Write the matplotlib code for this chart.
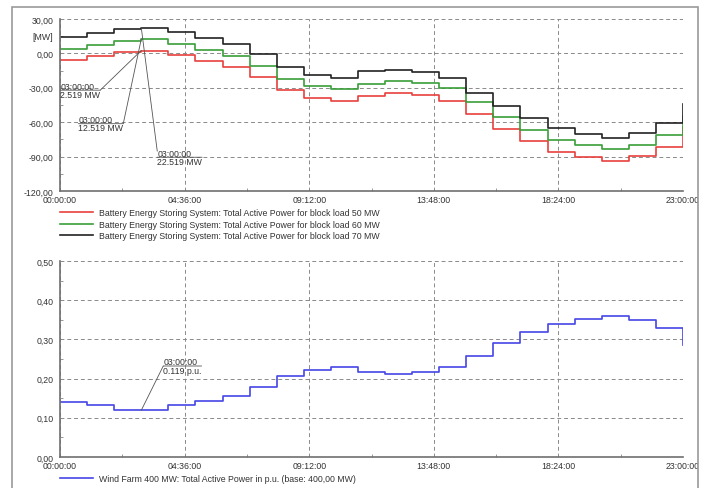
import matplotlib
matplotlib.use("Agg")
import matplotlib.pyplot as plt
from matplotlib.ticker import FuncFormatter, MultipleLocator
from matplotlib.patches import Rectangle
import numpy as np

plt.rcParams['font.family'] = ['Liberation Sans', 'DejaVu Sans']

# hourly values, 00:00 .. 23:00
hours = list(range(24))
bess_70 = [13.9, 17.4, 21.2, 22.519, 18.3, 13.0, 8.1, -0.6, -12.2, -18.6, -21.7, -15.7,
           -14.5, -16.2, -21.4, -34.8, -46.1, -56.5, -65.2, -70.7, -73.6, -69.6, -61.0, -44.5]
bess_60 = [3.9, 7.4, 11.2, 12.519, 8.3, 3.0, -1.9, -10.6, -22.2, -28.8, -31.0, -26.7,
           -24.3, -26.0, -30.4, -42.6, -55.7, -66.7, -75.7, -80.3, -83.8, -79.7, -71.5, -54.5]
bess_50 = [-6.1, -2.6, 1.2, 2.519, -1.7, -7.0, -11.9, -20.6, -32.2, -38.6, -41.7, -36.8,
           -34.8, -36.2, -41.4, -52.8, -65.8, -76.8, -86.0, -90.4, -93.9, -89.9, -81.5, -64.5]
wind_pu = [0.140, 0.132, 0.121, 0.119, 0.132, 0.142, 0.156, 0.179, 0.207, 0.223, 0.230, 0.216,
           0.211, 0.216, 0.229, 0.258, 0.290, 0.318, 0.339, 0.352, 0.360, 0.350, 0.329, 0.285]

labels_top = ["Battery Energy Storing System: Total Active Power for block load 50 MW",
              "Battery Energy Storing System: Total Active Power for block load 60 MW",
              "Battery Energy Storing System: Total Active Power for block load 70 MW"]
label_bottom = "Wind Farm 400 MW: Total Active Power in p.u. (base: 400,00 MW)"
x_ticks = [0, 4.6, 9.2, 13.8, 18.4, 23]
x_labels = ["00:00:00", "04:36:00", "09:12:00", "13:48:00", "18:24:00", "23:00:00"]

W, H = 709, 489
fs = 6.3
txt_col = "#333333"
line_col = "#555555"

fig = plt.figure(figsize=(W / 100, H / 100), dpi=100)


def px_axes(l, t, r, b):
    return fig.add_axes([l / W, 1 - b / H, (r - l) / W, (b - t) / H])


def style(ax, ymin, ymax, ystep, ndec):
    ax.set_xlim(0, 23)
    ax.set_ylim(ymin, ymax)
    ax.set_xticks(x_ticks)
    ax.set_xticklabels(x_labels)
    ax.set_yticks(np.arange(ymin, ymax + ystep / 2, ystep))
    ax.yaxis.set_major_formatter(FuncFormatter(lambda v, p: f"{v:.{ndec}f}".replace(".", ",")))
    ax.xaxis.set_minor_locator(MultipleLocator(2.3))
    ax.yaxis.set_minor_locator(MultipleLocator(ystep / 2))
    ax.tick_params(which="major", length=0, labelsize=fs, labelcolor=txt_col)
    ax.tick_params(axis="x", which="major", pad=3)
    ax.tick_params(axis="y", which="major", pad=4.5)
    ax.tick_params(which="minor", length=2.5, direction="in", color="#888888", width=0.6)
    ax.grid(True, which="major", color="#8a8a8a", linestyle=(0, (4, 3)), linewidth=0.7)
    for s in ["top", "right"]:
        ax.spines[s].set_visible(False)
    for s in ["left", "bottom"]:
        ax.spines[s].set_color("#707070")
        ax.spines[s].set_linewidth(1.2)


def note(ax, x, y, text, offset, relpos):
    # label text, connector to the point, underline between the two lines
    t = ax.annotate(text, xy=(x, y), xytext=offset, textcoords="offset pixels",
                    ha="left", va="top", fontsize=fs, color=txt_col, linespacing=0.9)
    ax.annotate("", xy=(x, y), xytext=relpos, textcoords=t,
                arrowprops=dict(arrowstyle="-", color=line_col, lw=0.6,
                                shrinkA=0, shrinkB=0))
    ax.annotate("", xy=(0, 0.5), xycoords=t, xytext=(1, 0.5), textcoords=t,
                arrowprops=dict(arrowstyle="-", color=line_col, lw=0.6,
                                shrinkA=0, shrinkB=0))


# top: BESS power
ax1 = px_axes(60, 20, 683, 192)
style(ax1, -120, 30, 30, 2)
l1, = ax1.step(hours, bess_50, where="post", color="#e8403c", lw=1.2)
l2, = ax1.step(hours, bess_60, where="post", color="#3a9e3a", lw=1.2)
l3, = ax1.step(hours, bess_70, where="post", color="#222222", lw=1.2)
ax1.text(-0.012, 0.9, "[MW]", transform=ax1.transAxes, ha="right", va="center",
         fontsize=fs, color=txt_col)
note(ax1, 3, bess_50[3], f"03:00:00\n{bess_50[3]:.3f} MW", (-81, -31), (1, 0.5))
note(ax1, 3, bess_60[3], f"03:00:00\n{bess_60[3]:.3f} MW", (-63, -76), (1, 0.5))
note(ax1, 3, bess_70[3], f"03:00:00\n{bess_70[3]:.3f} MW", (16, -121), (0, 0.85))

fig.legend([l1, l2, l3], labels_top, loc="upper left",
           bbox_to_anchor=(60 / W, 1 - 209 / H), frameon=False, fontsize=fs,
           handlelength=3.8, handletextpad=0.7, labelspacing=0.3,
           borderpad=0, borderaxespad=0, labelcolor=txt_col)

# bottom: wind farm
ax2 = px_axes(60, 262, 683, 458)
style(ax2, 0, 0.5, 0.1, 2)
l4, = ax2.step(hours, wind_pu, where="post", color="#4646e6", lw=1.2)
note(ax2, 3, wind_pu[3], f"03:00:00\n{wind_pu[3]:.3f} p.u.", (22, 53), (0, 0.5))

fig.legend([l4], [label_bottom], loc="upper left",
           bbox_to_anchor=(60 / W, 1 - 475 / H), frameon=False, fontsize=fs,
           handlelength=3.8, handletextpad=0.7,
           borderpad=0, borderaxespad=0, labelcolor=txt_col)

# outer frame of the screenshot
fig.patches.append(Rectangle((698 / W, 0), 11 / W, 1, transform=fig.transFigure,
                             facecolor="white", edgecolor="none", zorder=10))
fig.patches.append(Rectangle((12 / W, -0.05), 686 / W, 1.05 - 8 / H, transform=fig.transFigure,
                             facecolor="none", edgecolor="#9a9a9a", lw=1.2, zorder=11))

fig.savefig("out.png", dpi=100)
